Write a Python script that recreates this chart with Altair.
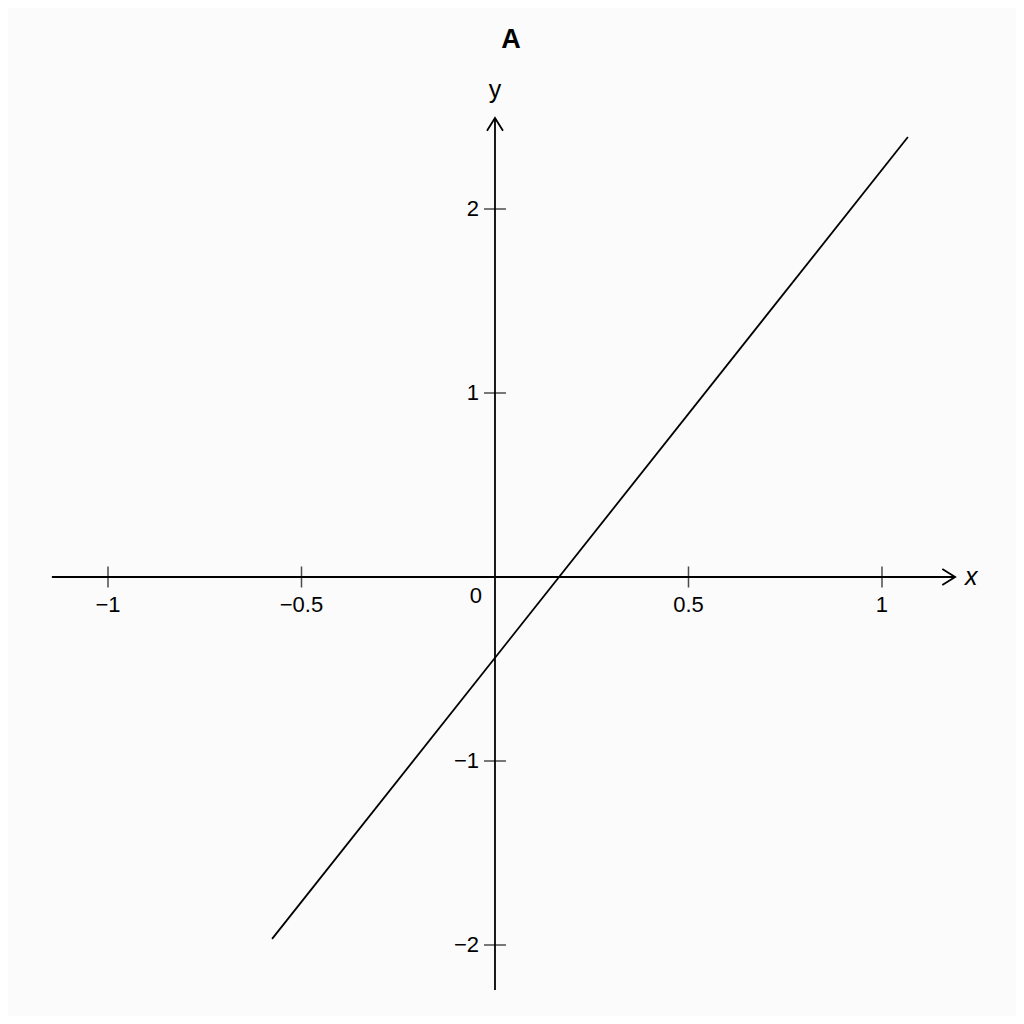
import altair as alt
import pandas as pd

# ---- data ----
line_x = [-0.576, 1.067]
line_y = [-1.967, 2.391]

x_ticks = [-1, -0.5, 0.5, 1]
x_tick_labels = ["\u22121", "\u22120.5", "0.5", "1"]
y_ticks = [-2, -1, 1, 2]
y_tick_labels = ["\u22122", "\u22121", "1", "2"]

x_axis_range = [-1.145, 1.189]
y_axis_range = [-2.245, 2.495]

title_text = "A"
x_label = "x"
y_label = "y"

# scale domains (plot spans the full 1008x1008 area)
X_DOM = [-1.2584, 1.3463]
Y_DOM = [-2.3859, 3.0924]

FONT = "Liberation Sans"

xs = alt.Scale(domain=X_DOM, nice=False, zero=False)
ys = alt.Scale(domain=Y_DOM, nice=False, zero=False)
noax = None

def X(field="x"):
    return alt.X(f"{field}:Q", scale=xs, axis=noax)

def Y(field="y"):
    return alt.Y(f"{field}:Q", scale=ys, axis=noax)

line_df = pd.DataFrame({"x": line_x, "y": line_y})
xaxis_df = pd.DataFrame({"x": [x_axis_range[0]], "x2": [x_axis_range[1]], "y": [0]})
yaxis_df = pd.DataFrame({"y": [y_axis_range[0]], "y2": [y_axis_range[1]], "x": [0]})
xt_df = pd.DataFrame({"x": x_ticks, "y": [0] * len(x_ticks), "label": x_tick_labels})
yt_df = pd.DataFrame({"y": y_ticks, "x": [0] * len(y_ticks), "label": y_tick_labels})
xarrow_df = pd.DataFrame({"x": [x_axis_range[1]], "y": [0]})
yarrow_df = pd.DataFrame({"x": [0], "y": [y_axis_range[1]]})
zero_df = pd.DataFrame({"x": [0], "y": [0], "label": ["0"]})
title_df = pd.DataFrame({"x": [0], "y": [y_axis_range[1]], "label": [title_text]})

SW = 1.8

base_line = alt.Chart(line_df).mark_line(color="black", strokeWidth=SW).encode(
    x=X(), y=Y()
)

x_axis = alt.Chart(xaxis_df).mark_rule(color="black", strokeWidth=SW).encode(
    x=X(), x2="x2:Q", y=Y()
)
y_axis = alt.Chart(yaxis_df).mark_rule(color="black", strokeWidth=SW).encode(
    y=Y(), y2="y2:Q", x=X()
)

x_tick_marks = alt.Chart(xt_df).mark_tick(
    color="black", orient="vertical", size=21, thickness=1.5
).encode(x=X(), y=Y())
y_tick_marks = alt.Chart(yt_df).mark_tick(
    color="black", orient="horizontal", size=22, thickness=1.5
).encode(x=X(), y=Y())

x_tick_text = alt.Chart(xt_df).mark_text(
    font=FONT, fontSize=22, color="black", dy=28, baseline="middle", align="center"
).encode(x=X(), y=Y(), text="label:N")
y_tick_text = alt.Chart(yt_df).mark_text(
    font=FONT, fontSize=22, color="black", dx=-16, baseline="middle", align="right"
).encode(x=X(), y=Y(), text="label:N")

zero_text = alt.Chart(zero_df).mark_text(
    font=FONT, fontSize=22, color="black", dx=-19, dy=19, baseline="middle", align="center"
).encode(x=X(), y=Y(), text="label:N")

x_arrow = alt.Chart(xarrow_df).mark_point(
    shape="M-1.6,-1L0,0L-1.6,1", size=256, filled=False, color="black",
    strokeWidth=SW, opacity=1
).encode(x=X(), y=Y())
y_arrow = alt.Chart(yarrow_df).mark_point(
    shape="M-1,1.6L0,0L1,1.6", size=256, filled=False, color="black",
    strokeWidth=SW, opacity=1
).encode(x=X(), y=Y())

x_lab = alt.Chart(xarrow_df.assign(label=[x_label])).mark_text(
    font=FONT, fontSize=25, fontStyle="italic", color="black", dx=16,
    baseline="middle", align="center"
).encode(x=X(), y=Y(), text="label:N")
y_lab = alt.Chart(yarrow_df.assign(label=[y_label])).mark_text(
    font=FONT, fontSize=25, color="black", dy=-28, baseline="middle", align="center"
).encode(x=X(), y=Y(), text="label:N")

title = alt.Chart(title_df).mark_text(
    font=FONT, fontSize=27, fontWeight="bold", color="black", dx=16, dy=-78,
    baseline="middle", align="center"
).encode(x=X(), y=Y(), text="label:N")

chart = alt.layer(
    x_axis, y_axis, x_tick_marks, y_tick_marks, x_arrow, y_arrow,
    base_line, x_tick_text, y_tick_text, zero_text, x_lab, y_lab, title
).properties(
    width=1008, height=1008,
    autosize=alt.AutoSizeParams(type="none"),
    padding=0,
    background="#fbfbfb",
).configure_view(stroke=None)

chart.save("out.html", embed_options={"renderer": "svg", "actions": False})
